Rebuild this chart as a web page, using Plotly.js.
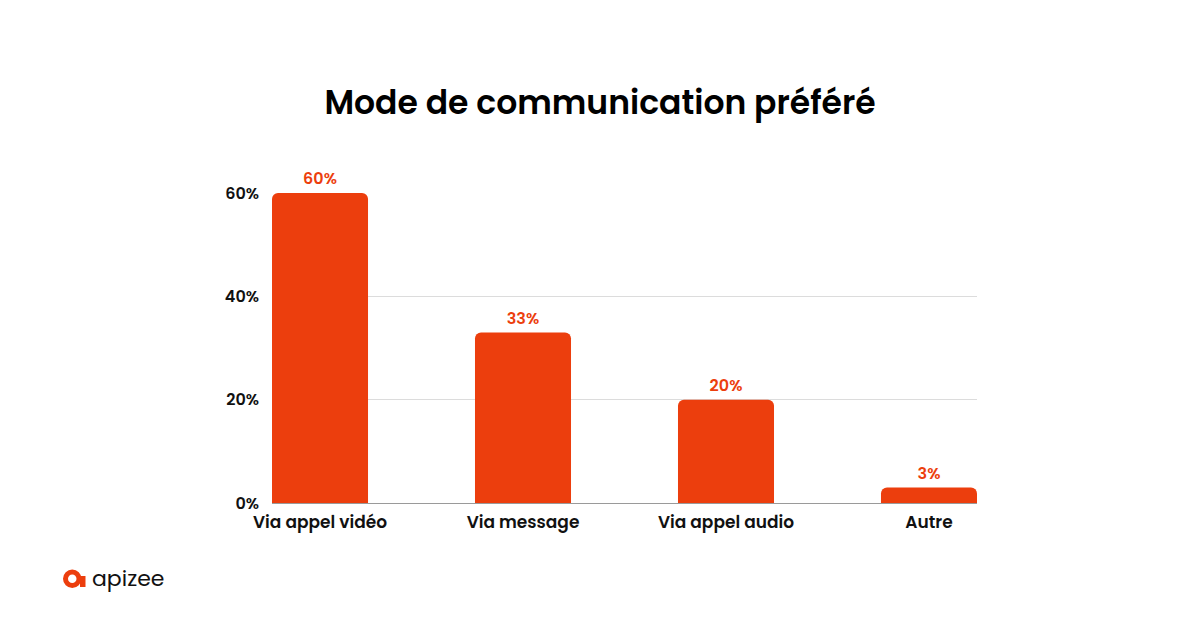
<!DOCTYPE html>
<html>
<head>
<meta charset="utf-8">
<script src="https://cdn.plot.ly/plotly-3.0.1.min.js"></script>
<style>html,body{margin:0;padding:0;background:#fff;}#chart{width:1200px;height:630px;}</style>
</head>
<body>
<div id="chart"></div>
<script>
const categories = ["Via appel vidéo", "Via message", "Via appel audio", "Autre"];
const values = [60, 33, 20, 3];
const valueLabels = ["60%", "33%", "20%", "3%"];
const yTickValues = [0, 20, 40, 60];
const yTickLabels = ["0%", "20%", "40%", "60%"];
const titleText = "Mode de communication préféré";
const brandName = "apizee";

const W = 1200, H = 630;
const M = {l: 272, r: 223, t: 193, b: 127};
const pw = W - M.l - M.r, ph = H - M.t - M.b;
const px = x => (x - M.l) / pw;
const py = y => (H - M.b - y) / ph;

const FONT = "Poppins, Inter, 'Open Sans', sans-serif";
const ORANGE = "#EC3E0D";

const trace = {
  type: "bar",
  x: [0, 1, 2, 3],
  y: values,
  width: 0.473,
  marker: {color: ORANGE, cornerradius: 6, line: {width: 0}},
  text: valueLabels,
  textposition: "outside",
  textfont: {family: FONT, size: 16, color: ORANGE, weight: 600},
  cliponaxis: false,
  hoverinfo: "skip"
};

const layout = {
  width: W, height: H,
  margin: M,
  paper_bgcolor: "#fff", plot_bgcolor: "#fff",
  showlegend: false,
  title: {text: titleText, x: 0.5, xref: "container", xanchor: "center",
          y: 1 - 102 / H, yanchor: "middle", yref: "container",
          font: {family: FONT, size: 33, color: "#000", weight: 600}},
  xaxis: {
    range: [-0.2365, 3.2365],
    tickvals: [0, 1, 2, 3],
    ticktext: categories,
    tickfont: {family: FONT, size: 17, color: "#111", weight: 600},
    showgrid: false, zeroline: false,
    showline: true, linecolor: "#9a9a9a", linewidth: 1,
    ticks: "", ticklabelstandoff: 4,
    fixedrange: true
  },
  yaxis: {
    range: [0, 60],
    tickvals: yTickValues,
    ticktext: yTickLabels,
    tickfont: {family: FONT, size: 16, color: "#111", weight: 600},
    showgrid: true, gridcolor: "#dcdcdc", gridwidth: 1,
    zeroline: false, showline: false,
    ticks: "", ticklabelstandoff: 12,
    fixedrange: true
  },
  shapes: [
    {type: "circle", xref: "paper", yref: "paper",
     x0: px(65.5), x1: px(79), y0: py(572), y1: py(585.5),
     line: {color: ORANGE, width: 5}, fillcolor: "rgba(0,0,0,0)"},
    {type: "rect", xref: "paper", yref: "paper",
     x0: px(80), x1: px(85.5), y0: py(576), y1: py(587),
     line: {width: 0}, fillcolor: ORANGE}
  ],
  annotations: [
    {text: brandName, xref: "paper", yref: "paper", x: px(90), y: py(578),
     xanchor: "left", yanchor: "middle", showarrow: false,
     font: {family: FONT, size: 22, color: "#111"}}
  ]
};

Plotly.newPlot("chart", [trace], layout, {displayModeBar: false, staticPlot: true});
</script>
</body>
</html>
